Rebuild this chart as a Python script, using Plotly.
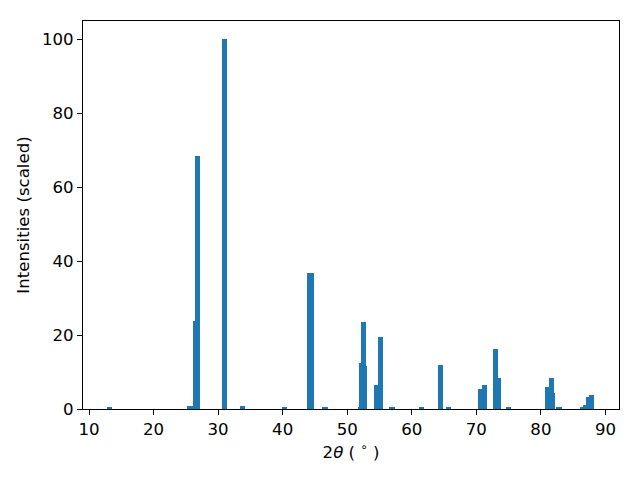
import plotly.graph_objects as go

two_theta = [13.18, 25.55, 25.75, 26.5, 26.8, 30.96, 33.78, 40.29, 44.1, 44.5, 46.56,
             52.1, 52.23, 52.57, 52.68, 54.54, 55.16, 56.94, 61.51, 64.45, 65.7,
             70.66, 71.26, 72.97, 73.44, 75.0, 81.04, 81.65, 81.8, 82.8,
             86.47, 86.93, 87.4, 87.83]
intensity = [0.5, 0.8, 0.8, 23.8, 68.5, 100.0, 0.8, 0.35, 36.8, 36.9, 0.4,
             0.3, 12.4, 23.6, 11.7, 6.5, 19.6, 0.3, 0.6, 11.9, 0.3,
             5.4, 6.5, 16.3, 8.4, 0.3, 6.0, 8.4, 4.3, 0.3,
             0.3, 1.1, 3.3, 3.8]
x_ticks = [10, 20, 30, 40, 50, 60, 70, 80, 90]
y_ticks = [0, 20, 40, 60, 80, 100]

fig = go.Figure(go.Bar(
    x=two_theta, y=intensity, width=0.8,
    marker=dict(color="#1f77b4", line=dict(width=0)),
))

font = dict(family="DejaVu Sans", size=16.6, color="black")
fig.update_layout(
    width=640, height=480,
    margin=dict(l=75, r=29, t=13, b=79, autoexpand=False),
    paper_bgcolor="white", plot_bgcolor="white",
    barmode="overlay", bargap=0,
    showlegend=False,
    font=font,
)
fig.update_xaxes(
    range=[9.07, 92.1], tickvals=x_ticks,
    showgrid=False, zeroline=False,
    showline=True, linecolor="black", linewidth=1.1, mirror=True,
    ticks="outside", ticklen=5, tickwidth=1.1, tickcolor="black",
    tickfont=font,
    title=dict(text="2<i>θ</i> ( <sup>∘</sup> )", font=font, standoff=8),
)
fig.update_yaxes(
    range=[0, 105], tickvals=y_ticks,
    showgrid=False, zeroline=False,
    showline=True, linecolor="black", linewidth=1.1, mirror=True,
    ticks="outside", ticklen=5, tickwidth=1.1, tickcolor="black",
    tickfont=font,
    title=dict(text="Intensities (scaled)", font=font, standoff=8),
)

fig.write_html("out.html")
